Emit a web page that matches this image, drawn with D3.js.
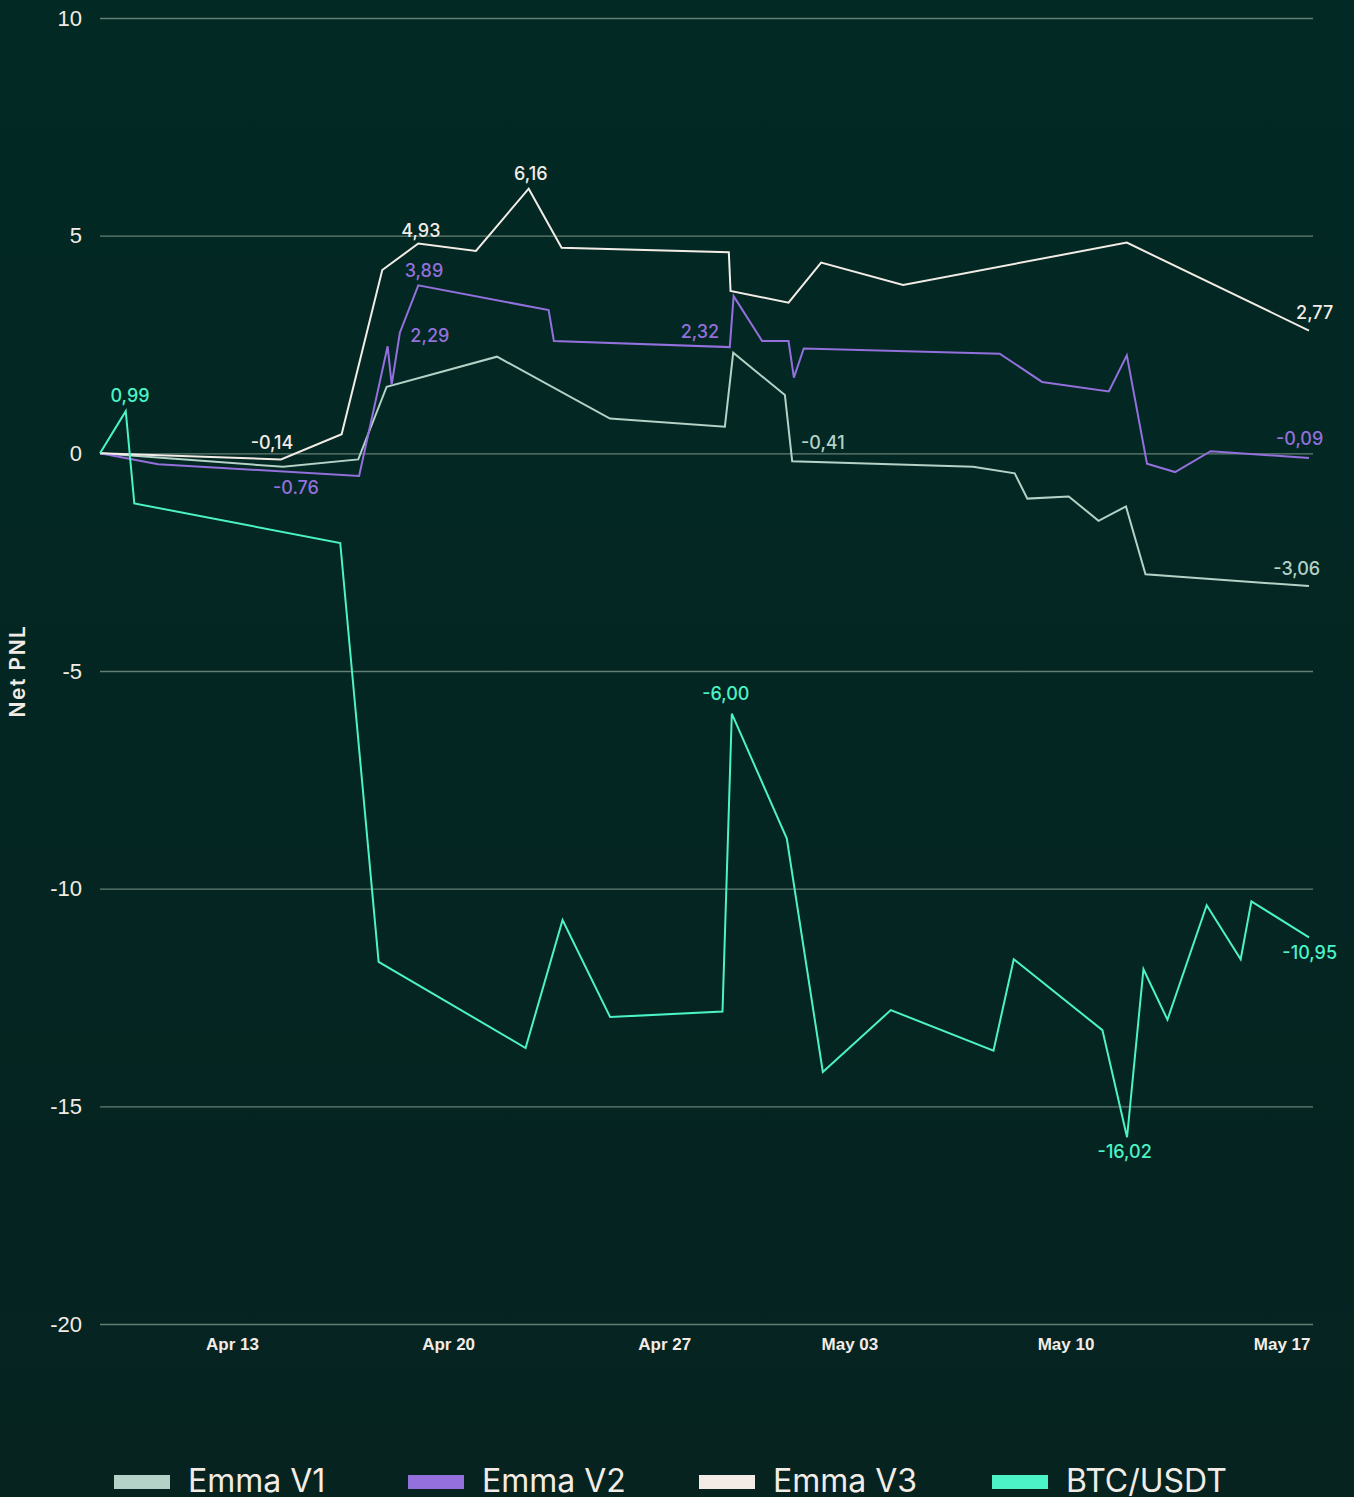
<!DOCTYPE html>
<html>
<head>
<meta charset="utf-8">
<script src="https://cdn.jsdelivr.net/npm/d3@7"></script>
<style>
  html, body { margin: 0; padding: 0; background: #032621; }
  svg { display: block; font-family: Inter, "Noto Sans", sans-serif; }
</style>
</head>
<body>
<div id="chart"></div>
<script>
// series data: [timestamp, net pnl]
var emmaV1 = [
  ["2024-04-08 17:24", 0], ["2024-04-14 15:50", -0.31], ["2024-04-17 02:10", -0.14],
  ["2024-04-18 00:15", 1.53], ["2024-04-21 14:00", 2.22], ["2024-04-25 05:50", 0.80],
  ["2024-04-28 23:10", 0.61], ["2024-04-29 05:40", 2.31], ["2024-04-30 21:50", 1.34],
  ["2024-05-01 03:30", -0.18], ["2024-05-07 00:10", -0.31], ["2024-05-08 08:30", -0.46],
  ["2024-05-08 18:20", -1.04], ["2024-05-10 02:30", -0.99], ["2024-05-11 01:40", -1.55],
  ["2024-05-11 23:00", -1.22], ["2024-05-12 14:10", -2.78], ["2024-05-17 21:17", -3.05]
];
var emmaV2 = [
  ["2024-04-08 17:24", 0], ["2024-04-10 14:40", -0.25], ["2024-04-17 02:50", -0.52],
  ["2024-04-18 01:00", 2.46], ["2024-04-18 04:10", 1.58], ["2024-04-18 10:30", 2.77],
  ["2024-04-19 00:50", 3.86], ["2024-04-23 06:10", 3.29], ["2024-04-23 10:15", 2.58],
  ["2024-04-29 03:00", 2.44], ["2024-04-29 06:00", 3.61], ["2024-04-30 04:10", 2.58],
  ["2024-05-01 00:40", 2.58], ["2024-05-01 04:50", 1.74], ["2024-05-01 12:30", 2.41],
  ["2024-05-07 20:50", 2.29], ["2024-05-09 05:45", 1.64], ["2024-05-11 09:40", 1.42],
  ["2024-05-11 23:40", 2.25], ["2024-05-12 15:20", -0.24], ["2024-05-13 13:10", -0.43],
  ["2024-05-14 16:50", 0.05], ["2024-05-17 21:17", -0.11]
];
var emmaV3 = [
  ["2024-04-08 17:24", 0], ["2024-04-14 14:05", -0.14], ["2024-04-16 13:15", 0.44],
  ["2024-04-17 20:50", 4.21], ["2024-04-19 00:50", 4.82], ["2024-04-20 21:40", 4.65],
  ["2024-04-22 14:40", 6.08], ["2024-04-23 16:15", 4.72], ["2024-04-29 02:15", 4.62],
  ["2024-04-29 03:35", 3.73], ["2024-05-01 00:40", 3.46], ["2024-05-02 02:00", 4.38],
  ["2024-05-04 17:45", 3.87], ["2024-05-11 23:40", 4.84], ["2024-05-17 21:17", 2.82]
];
var btcUsdt = [
  ["2024-04-08 17:24", 0], ["2024-04-09 13:25", 0.97], ["2024-04-09 20:05", -1.15],
  ["2024-04-16 12:10", -2.06], ["2024-04-17 18:00", -11.68], ["2024-04-22 12:15", -13.66],
  ["2024-04-23 17:00", -10.72], ["2024-04-25 06:00", -12.95], ["2024-04-28 21:20", -12.82],
  ["2024-04-29 04:35", -5.98], ["2024-04-30 23:20", -8.85], ["2024-05-02 03:20", -14.21],
  ["2024-05-04 08:10", -12.79], ["2024-05-07 16:00", -13.72], ["2024-05-08 07:45", -11.62],
  ["2024-05-11 04:40", -13.25], ["2024-05-11 23:50", -15.71], ["2024-05-12 12:35", -11.85],
  ["2024-05-13 07:15", -13.01], ["2024-05-14 13:45", -10.38], ["2024-05-15 16:10", -11.62],
  ["2024-05-16 00:30", -10.29], ["2024-05-17 21:17", -11.12]
];

var seriesNames = ["Emma V1", "Emma V2", "Emma V3", "BTC/USDT"];
var seriesColors = ["#b4d2c7", "#9370db", "#f3ece6", "#4cf3c6"];

var xTickDates = ["2024-04-13", "2024-04-20", "2024-04-27", "2024-05-03", "2024-05-10", "2024-05-17"];
var yTicks = [-20, -15, -10, -5, 0, 5, 10];

// value labels: [text, series index, timestamp, value]
var valueLabels = [
  ["0,99", 3, "2024-04-09 16:45", 1.33],
  ["-0,14", 2, "2024-04-14 07:05", 0.25],
  ["-0.76", 1, "2024-04-15 01:45", -0.80],
  ["4,93", 2, "2024-04-19 02:50", 5.12],
  ["6,16", 2, "2024-04-22 16:20", 6.43],
  ["3,89", 1, "2024-04-19 05:15", 4.20],
  ["2,29", 1, "2024-04-19 09:50", 2.71],
  ["2,32", 1, "2024-04-28 03:45", 2.80],
  ["-0,41", 0, "2024-05-02 03:20", 0.25],
  ["2,77", 2, "2024-05-18 01:40", 3.24],
  ["-0,09", 1, "2024-05-17 14:00", 0.34],
  ["-3,06", 0, "2024-05-17 11:45", -2.66],
  ["-6,00", 3, "2024-04-28 23:55", -5.53],
  ["-16,02", 3, "2024-05-11 22:00", -16.05],
  ["-10,95", 3, "2024-05-17 21:50", -11.46]
];

var width = 1354, height = 1497;
var margin = {left: 100, right: 45, top: 18, bottom: 173};

var parseTime = d3.timeParse("%Y-%m-%d %H:%M");
var parseDay = d3.timeParse("%Y-%m-%d");

var allSeries = [emmaV1, emmaV2, emmaV3, btcUsdt].map(function(s) {
  return s.map(function(d) { return {date: parseTime(d[0]), value: d[1]}; });
});

var svg = d3.select("#chart").append("svg")
  .attr("width", width)
  .attr("height", height);

var defs = svg.append("defs");
var grad = defs.append("linearGradient").attr("id", "bg").attr("x1", 0).attr("y1", 0).attr("x2", 0).attr("y2", 1);
grad.append("stop").attr("offset", "0%").attr("stop-color", "#022924");
grad.append("stop").attr("offset", "100%").attr("stop-color", "#062320");
svg.append("rect").attr("width", width).attr("height", height).attr("fill", "url(#bg)");

var x = d3.scaleTime()
  .domain(d3.extent(allSeries[0], function(d) { return d.date; }))
  .range([margin.left, 1309]);

var y = d3.scaleLinear()
  .domain([-20, 10])
  .range([height - margin.bottom, margin.top]);

var gridRight = width - margin.right + 4;

// horizontal grid + y labels
var yAxis = svg.append("g")
  .attr("transform", "translate(" + margin.left + ",0)")
  .call(d3.axisLeft(y).tickValues(yTicks).tickSize(-(gridRight - margin.left)).tickPadding(18)
    .tickFormat(function(d) { return String(d); }));
yAxis.select(".domain").remove();
yAxis.selectAll(".tick line").attr("stroke", "#637f75").attr("stroke-width", 1.3);
yAxis.selectAll(".tick text")
  .attr("fill", "#f3ece6")
  .style("font-size", "22px")
  .style("font-weight", 500);

// x labels
var xAxis = svg.append("g")
  .attr("transform", "translate(0," + y(-20) + ")")
  .call(d3.axisBottom(x).tickValues(xTickDates.map(parseDay)).tickSize(0).tickPadding(14).tickFormat(d3.timeFormat("%b %d")));
xAxis.select(".domain").remove();
xAxis.selectAll(".tick text")
  .attr("fill", "#f3ece6")
  .style("font-size", "17px")
  .style("font-weight", 600);

// y axis title
svg.append("text")
  .attr("transform", "translate(25," + y(-5) + ") rotate(-90)")
  .attr("text-anchor", "middle")
  .attr("fill", "#f3ece6")
  .style("font-size", "21px")
  .style("font-weight", 600)
  .style("letter-spacing", "1.5px")
  .text("Net PNL");

var line = d3.line()
  .x(function(d) { return x(d.date); })
  .y(function(d) { return y(d.value); });

svg.append("g").selectAll("path")
  .data(allSeries)
  .enter().append("path")
    .attr("d", line)
    .attr("fill", "none")
    .attr("stroke", function(d, i) { return seriesColors[i]; })
    .attr("stroke-width", 2)
    .attr("stroke-linejoin", "miter");

// value labels
svg.append("g").selectAll("text")
  .data(valueLabels)
  .enter().append("text")
    .attr("x", function(d) { return x(parseTime(d[2])); })
    .attr("y", function(d) { return y(d[3]); })
    .attr("dy", "0.35em")
    .attr("text-anchor", "middle")
    .attr("fill", function(d) { return seriesColors[d[1]]; })
    .style("font-size", "18px")
    .style("font-weight", 500)
    .text(function(d) { return d[0]; });

// legend
var legendX = [114, 408, 699, 992];
var legend = svg.append("g").selectAll("g")
  .data(seriesNames)
  .enter().append("g")
    .attr("transform", function(d, i) { return "translate(" + legendX[i] + ",1475)"; });
legend.append("rect")
  .attr("width", 56)
  .attr("height", 14)
  .attr("fill", function(d, i) { return seriesColors[i]; });
legend.append("text")
  .attr("x", 74)
  .attr("y", 17)
  .attr("fill", "#f3ece6")
  .style("font-size", "32px")
  .style("font-weight", 400)
  .text(function(d) { return d; });
</script>
</body>
</html>
